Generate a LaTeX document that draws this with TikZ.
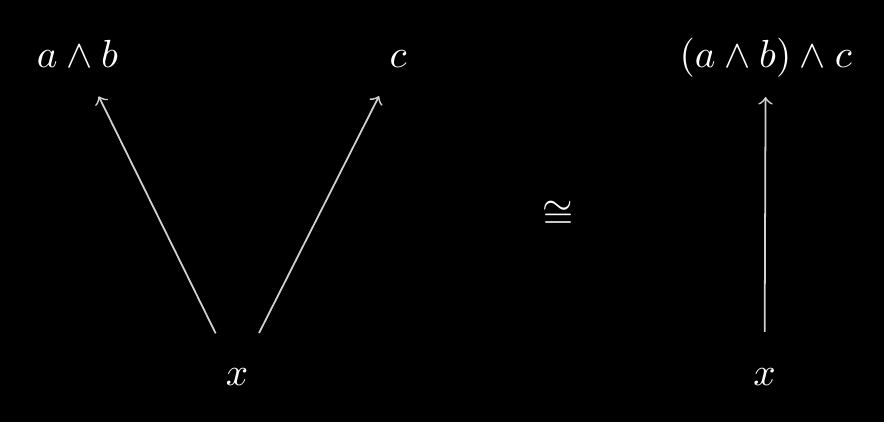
\documentclass[tikz,border=0pt]{standalone}
\usetikzlibrary{calc}
\begin{document}
\begin{tikzpicture}[x=0.2551pt,y=-0.2551pt,
  lbl/.style={text=white,inner sep=0pt,anchor=base},
  arr/.style={draw=white!82!black,line width=0.45pt,->}]
\fill[black] (0,0) rectangle (884,422);
\useasboundingbox (0,0) rectangle (884,422);
\node[lbl] (ab) at (77.5,67) {$a\wedge b$};
\node[lbl] (c) at (398,67) {$c$};
\node[lbl] (abc) at (765.7,67) {$(a\wedge b)\wedge c$};
\node[lbl] (x1) at (237,385) {$x$};
\node[lbl] (x2) at (764.5,385) {$x$};
\node[text=white,inner sep=0pt] (iso) at (558,215) {$\cong$};
\draw[arr] ($(x1.center)!12.3pt!(ab.center)$) -- ($(ab.center)!12.2pt!(x1.center)$);
\draw[arr] ($(x1.center)!12.45pt!(c.center)$) -- ($(c.center)!10.7pt!(x1.center)$);
\draw[arr] ($(x2.center)!11.4pt!(abc.center)$) -- ($(abc.center)!10.15pt!(x2.center)$);
\end{tikzpicture}
\end{document}
